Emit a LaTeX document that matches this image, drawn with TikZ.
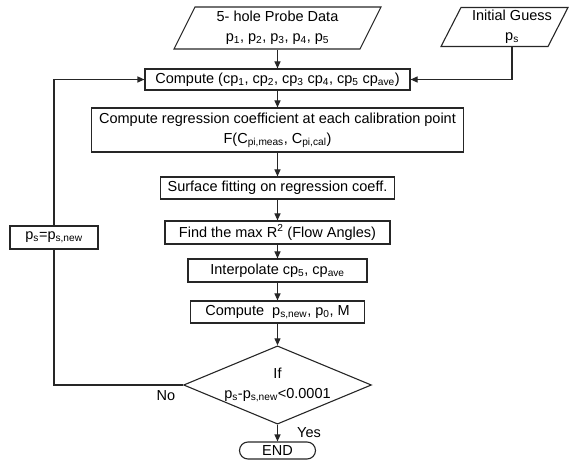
\documentclass[tikz,border=0pt]{standalone}
\usepackage{fontspec}
\setmainfont{Liberation Sans}
\usetikzlibrary{arrows.meta,shapes.geometric,calc}
\begin{document}
\begin{tikzpicture}[x=1pt,y=-1pt,
  font=\fontsize{14.5}{20}\selectfont,
  line width=1.1pt,
  box/.style={draw=black!85,rectangle,inner sep=0pt,align=center},
  iotext/.style={inner sep=0pt,align=center},
  arr/.style={-{Triangle[length=7pt,width=6pt]}},
  ln/.style={black!85}]
\useasboundingbox (0,0) rectangle (573,462);
% input parallelograms
\node[iotext,minimum width=186,minimum height=42] (probe) at (277.5,28) {5- hole Probe Data\\p\textsubscript{1}, p\textsubscript{2}, p\textsubscript{3}, p\textsubscript{4}, p\textsubscript{5}};
\draw[ln] ($(probe.center)+(-103.5,21)$) -- ++(186,0) -- ++(21,-42) -- ++(-186,0) -- cycle;
\node[iotext,minimum width=100,minimum height=39] (guess) at (512,27) {Initial Guess\\p\textsubscript{s}};
\draw[ln] ($(guess.center)+(-71,19.5)$) -- ++(107,0) -- ++(20,-39) -- ++(-107,0) -- cycle;
% process boxes
\node[box,minimum width=265,minimum height=21] (comp) at (277.5,79.5) {Compute (cp\textsubscript{1}, cp\textsubscript{2}, cp\textsubscript{3} cp\textsubscript{4}, cp\textsubscript{5} cp\textsubscript{ave})};
\node[box,minimum width=372,minimum height=44] (regr) at (277.5,130) {Compute regression coefficient at each calibration point\\F(C\textsubscript{pi,meas}, C\textsubscript{pi,cal})};
\node[box,minimum width=234,minimum height=22] (surf) at (277.5,188) {Surface fitting on regression coeff.};
\node[box,minimum width=225,minimum height=23] (find) at (277.5,232.5) {Find the max R\textsuperscript{2} (Flow Angles)};
\node[box,minimum width=179,minimum height=23] (interp) at (277.5,270.5) {Interpolate cp\textsubscript{5}, cp\textsubscript{ave}};
\node[box,minimum width=174,minimum height=22] (comp2) at (277.5,312) {Compute\ \ p\textsubscript{s,new}, p\textsubscript{0}, M};
\node[draw=black!85,diamond,aspect=2.4,inner sep=0pt,minimum width=187,minimum height=78,align=center] (dec) at (277.5,385) {If\\p\textsubscript{s}-p\textsubscript{s,new}<0.0001};
\node[draw=black!85,rectangle,rounded corners=8.5pt,minimum width=76,minimum height=17,inner sep=0pt] (end) at (277.5,450.5) {END};
\node[box,minimum width=88,minimum height=23] (upd) at (54,237.5) {p\textsubscript{s}=p\textsubscript{s,new}};
% labels
\node[iotext] (no) at (166,396) {No};
\node[iotext] (yes) at (309,433) {Yes};
% connectors
\draw[ln,arr] (probe.south) -- (comp.north);
\draw[ln,arr] (guess.south) |- (comp.east);
\draw[ln,arr] (comp.south) -- (regr.north);
\draw[ln,arr] (regr.south) -- (surf.north);
\draw[ln,arr] (surf.south) -- (find.north);
\draw[ln,arr] (find.south) -- (interp.north);
\draw[ln,arr] (interp.south) -- (comp2.north);
\draw[ln,arr] (comp2.south) -- (dec.north);
\draw[ln,arr] (dec.south) -- (end.north);
\draw[ln] (dec.west) -| (upd.south);
\draw[ln,arr] (upd.north) |- (comp.west);
\end{tikzpicture}
\end{document}
